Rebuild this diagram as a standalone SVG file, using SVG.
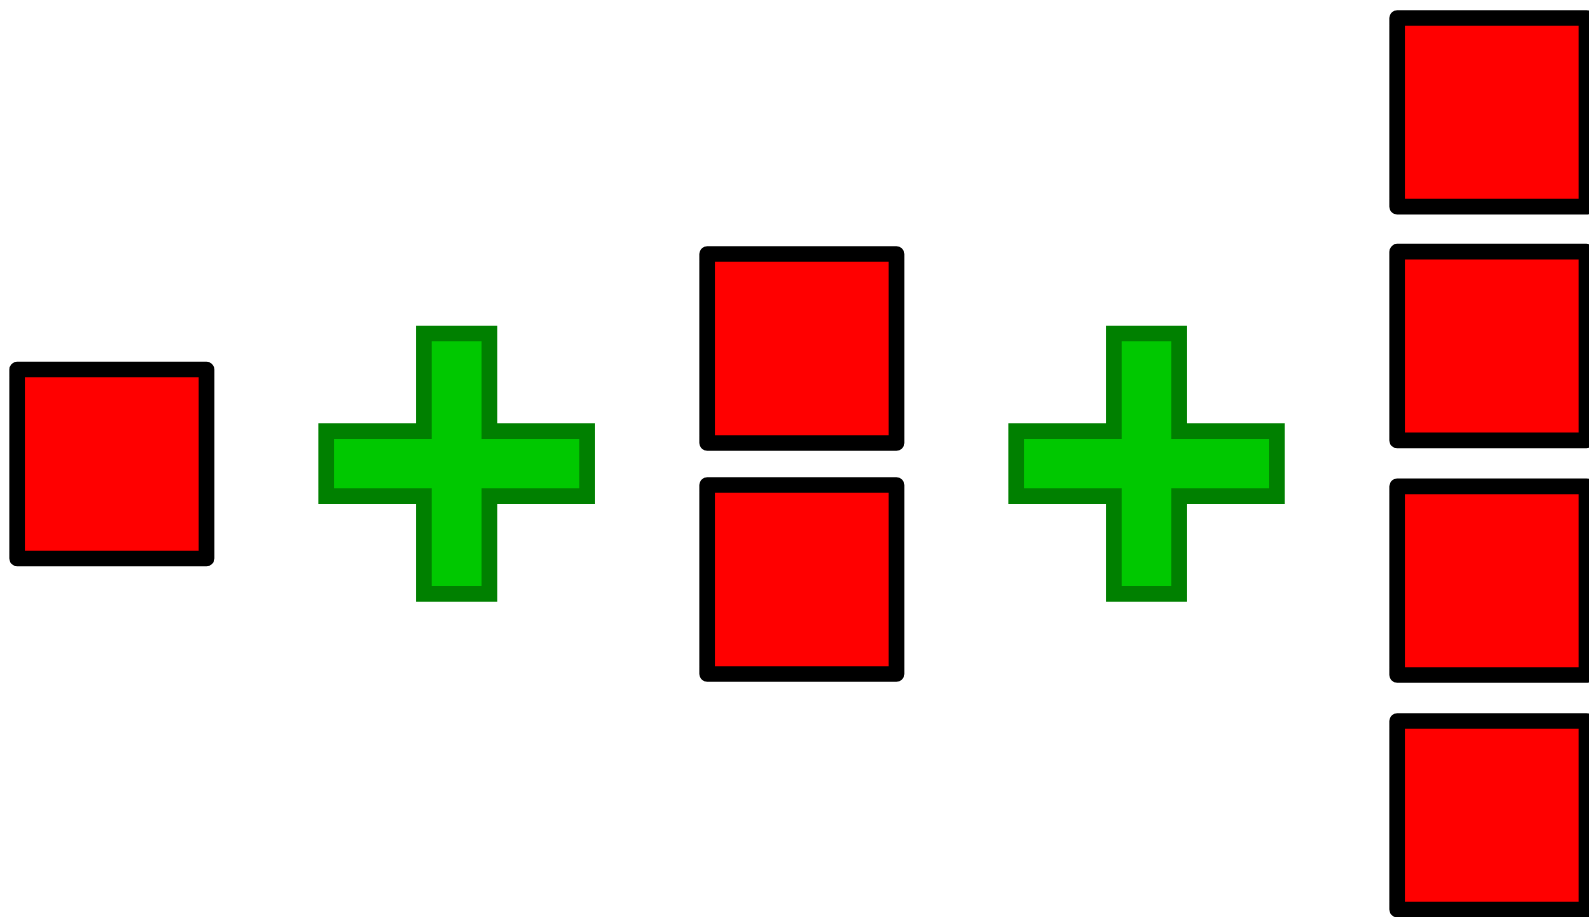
<svg xmlns="http://www.w3.org/2000/svg" width="1589" height="917" viewBox="0 0 1589 917">
<style>
.sq{fill:#ff0000;stroke:#000000;stroke-width:15.7;stroke-linejoin:round}
.plus{fill:#00c800;stroke:#008000;stroke-width:15.7;stroke-linejoin:miter}
</style>
<rect width="1589" height="917" fill="#ffffff"/>
<g id="square-1"><rect class="sq" x="17.2" y="369.5" width="189.3" height="189"/></g>
<g id="plus-1"><path class="plus" d="M423.9,333.5 H489.4 V431.2 H587.1 V496.1 H489.4 V593.8 H423.9 V496.1 H326.2 V431.2 H423.9 Z"/></g>
<g id="square-2a"><rect class="sq" x="707.2" y="254" width="189.3" height="189"/></g>
<g id="square-2b"><rect class="sq" x="707.2" y="485" width="189.3" height="189"/></g>
<g id="plus-2"><path class="plus" d="M1113.9,333.5 H1179.1 V431.2 H1276.9 V496.1 H1179.1 V593.8 H1113.9 V496.1 H1016.2 V431.2 H1113.9 Z"/></g>
<g id="square-3a"><rect class="sq" x="1397.2" y="18" width="189.3" height="188.7"/></g>
<g id="square-3b"><rect class="sq" x="1397.2" y="251.7" width="189.3" height="188.7"/></g>
<g id="square-3c"><rect class="sq" x="1397.2" y="486.3" width="189.3" height="188.7"/></g>
<g id="square-3d"><rect class="sq" x="1397.2" y="721" width="189.3" height="188.5"/></g>
<g id="connectors"></g>
</svg>
